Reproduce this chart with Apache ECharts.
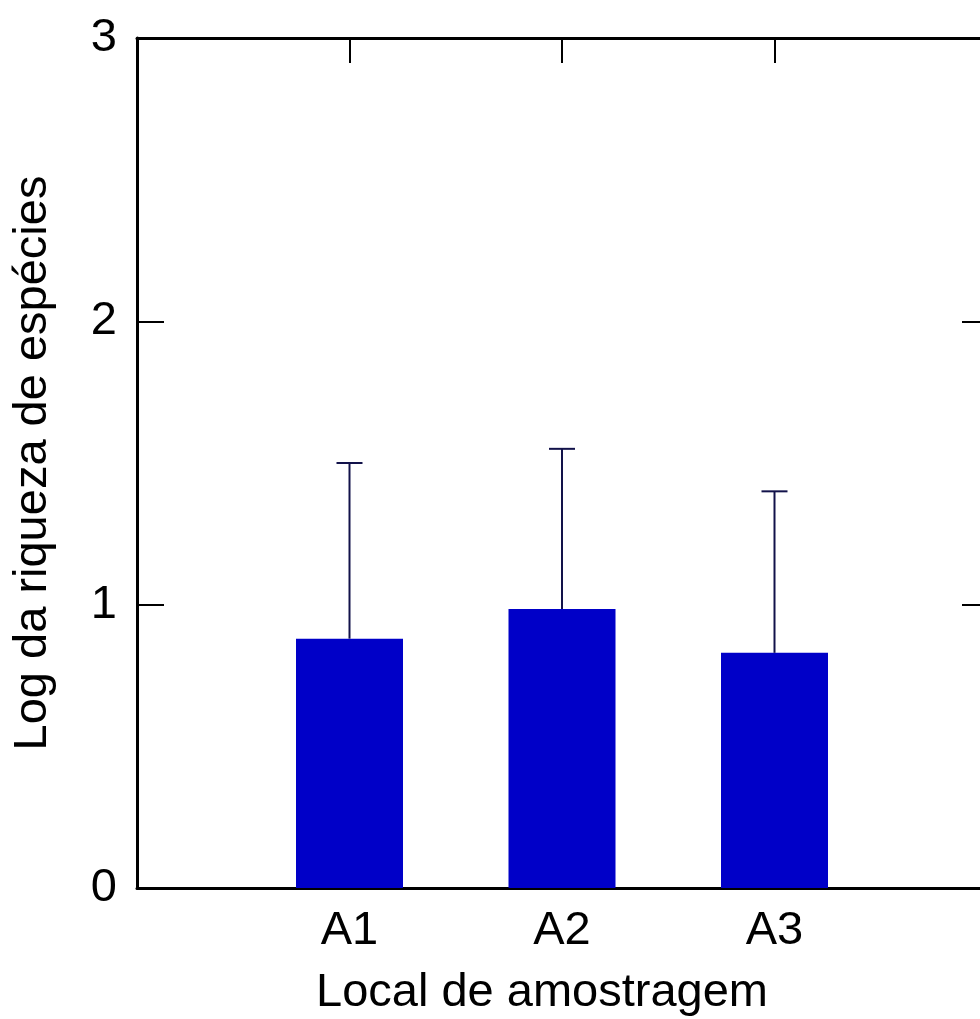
<!DOCTYPE html>
<html>
<head>
<meta charset="utf-8">
<title>Log da riqueza de espécies</title>
<script src="https://cdn.jsdelivr.net/npm/echarts@6/dist/echarts.min.js"></script>
<style>
  html, body { margin: 0; padding: 0; background: #ffffff; }
  #chart { width: 980px; height: 1019px; }
</style>
</head>
<body>
<div id="chart"></div>
<script>
// Sampling sites and the mean log species richness with its error (upper bar only)
const categories = ['A1', 'A2', 'A3'];
const means = [0.88, 0.985, 0.83];
const errors = [0.62, 0.565, 0.57];
const yTicks = [0, 1, 2, 3];

const FONT = '"Liberation Sans", Arial, sans-serif';
const FS = 47;

// categories sit at x = 1, 2, 3 on a 0..4 value axis
const barData = categories.map((c, i) => [i + 1, means[i]]);
const errData = categories.map((c, i) => [i + 1, means[i], means[i] + errors[i]]);

const chart = echarts.init(document.getElementById('chart'), null, { renderer: 'canvas' });

const lineStyle = { color: '#000', width: 3 };
const tickStyle = { color: '#000', width: 2 };

chart.setOption({
  backgroundColor: '#ffffff',
  animation: false,
  // the frame runs a few pixels past the right edge of the canvas
  grid: { left: 137, top: 38, width: 850, height: 850, outerBoundsMode: 'none', containLabel: false },
  xAxis: [
    {
      type: 'value', position: 'bottom', min: 0, max: 4, interval: 1,
      axisLine: { show: true, onZero: false, lineStyle },
      axisTick: { show: true, inside: true, length: 25, lineStyle: tickStyle },
      splitLine: { show: false },
      axisLabel: {
        margin: 20, color: '#000', fontFamily: FONT, fontSize: FS,
        formatter: v => categories[v - 1] || ''
      },
      name: 'Local de amostragem', nameLocation: 'middle', nameGap: 82,
      nameTextStyle: { color: '#000', fontFamily: FONT, fontSize: FS, padding: [0, 40, 0, 0] }
    },
    {
      type: 'value', position: 'top', min: 0, max: 4, interval: 1,
      axisLine: { show: true, onZero: false, lineStyle },
      axisTick: { show: true, inside: true, length: 25, lineStyle: tickStyle },
      axisLabel: { show: false }, splitLine: { show: false }
    }
  ],
  yAxis: [
    {
      type: 'value', position: 'left', min: yTicks[0], max: yTicks[yTicks.length - 1], interval: 1,
      axisLine: { show: true, onZero: false, lineStyle },
      axisTick: { show: true, inside: true, length: 27, lineStyle: tickStyle },
      splitLine: { show: false },
      axisLabel: { margin: 20, color: '#000', fontFamily: FONT, fontSize: FS, padding: [0, 0, 8, 0] },
      name: 'Log da riqueza de espécies', nameLocation: 'middle', nameGap: 80,
      nameTextStyle: { color: '#000', fontFamily: FONT, fontSize: FS }
    },
    {
      type: 'value', position: 'right', min: yTicks[0], max: yTicks[yTicks.length - 1], interval: 1,
      axisLine: { show: true, onZero: false, lineStyle },
      axisTick: { show: true, inside: true, length: 25, lineStyle: tickStyle },
      axisLabel: { show: false }, splitLine: { show: false }
    }
  ],
  series: [
    {
      type: 'bar', xAxisIndex: 0, yAxisIndex: 0,
      data: barData, barWidth: 107, z: 2,
      itemStyle: { color: '#0000c8' }
    },
    {
      type: 'custom', xAxisIndex: 0, yAxisIndex: 0, z: 3,
      data: errData,
      encode: { x: 0, y: [1, 2] },
      renderItem: (params, api) => {
        const x = api.value(0);
        const lo = api.coord([x, api.value(1)]);
        const hi = api.coord([x, api.value(2)]);
        const half = 13;
        const style = { stroke: '#12124a', lineWidth: 2 };
        return {
          type: 'group',
          children: [
            { type: 'line', shape: { x1: lo[0], y1: lo[1], x2: hi[0], y2: hi[1] }, style },
            { type: 'line', shape: { x1: hi[0] - half, y1: hi[1], x2: hi[0] + half, y2: hi[1] }, style }
          ]
        };
      }
    }
  ]
});
</script>
</body>
</html>
